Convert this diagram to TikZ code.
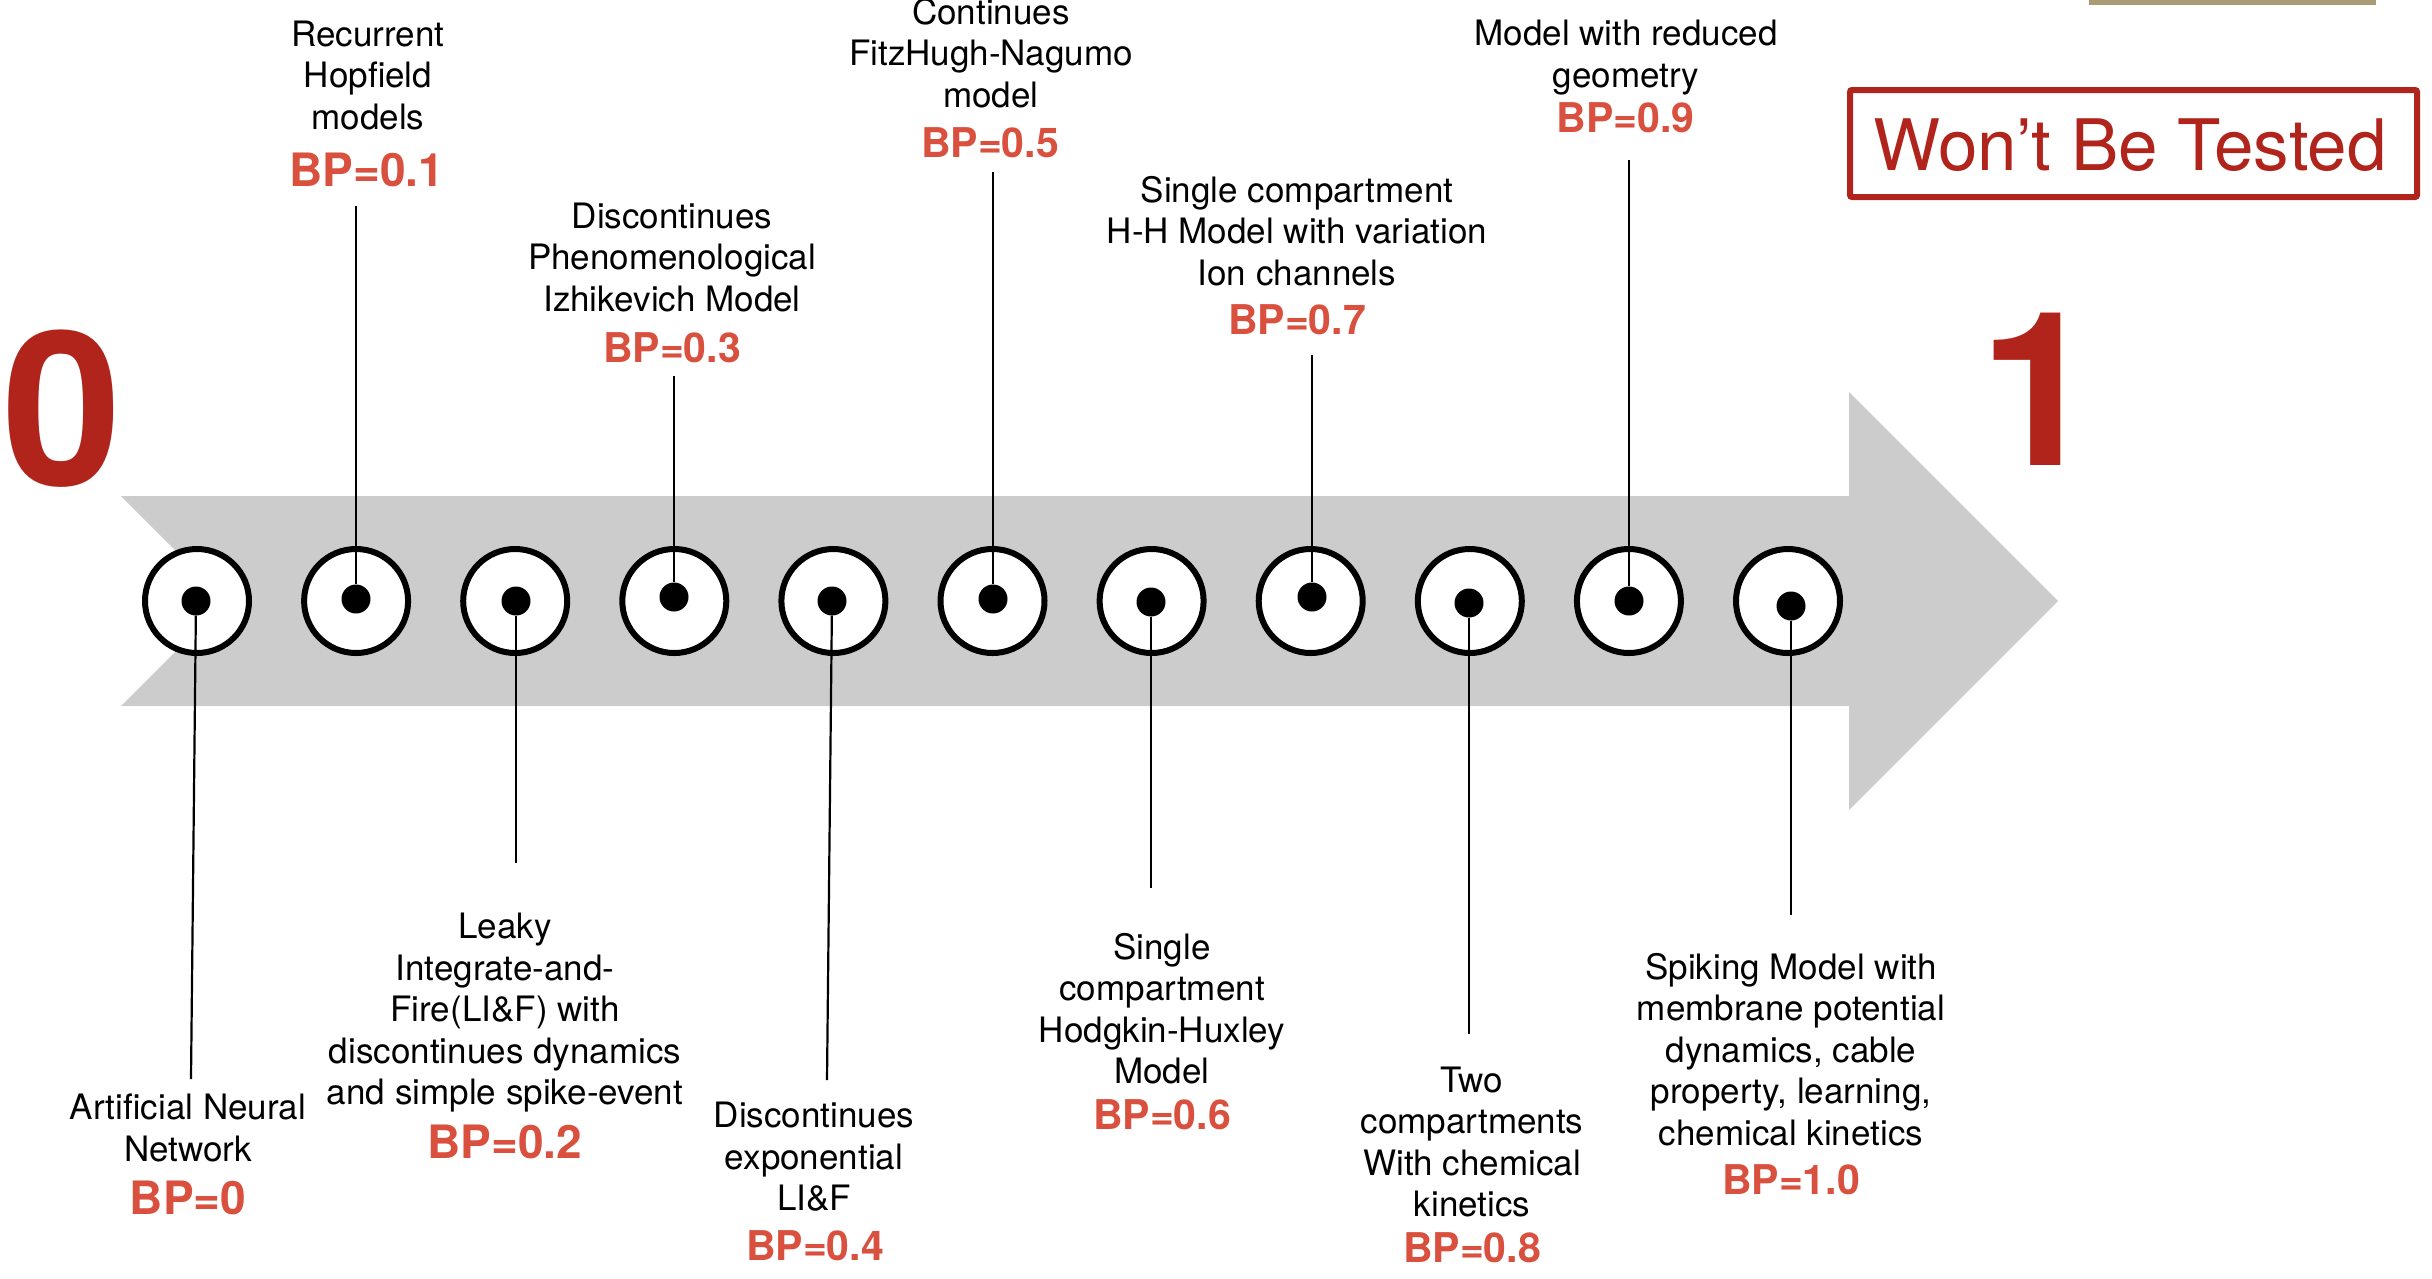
\documentclass[tikz,border=0pt]{standalone}
\usepackage{fontspec}
\setmainfont{TeX Gyre Heros}
\definecolor{bpred}{HTML}{D9503F}
\definecolor{darkred}{HTML}{B0241B}
\definecolor{arrowgray}{HTML}{CCCCCC}
\definecolor{tanbar}{HTML}{A99C74}
\tikzset{
  desc/.style={anchor=base, align=center, inner sep=0pt, font=\fontsize{35}{41.5}\selectfont},
  bpbig/.style={anchor=base, inner sep=0pt, text=bpred, font=\fontsize{46}{50}\selectfont\bfseries},
  bpsmall/.style={anchor=base, inner sep=0pt, text=bpred, font=\fontsize{41}{45}\selectfont\bfseries},
  ring/.style={circle, draw=black, line width=6pt, fill=white, minimum size=104pt, inner sep=0pt},
  dotnode/.style={circle, fill=black, minimum size=29pt, inner sep=0pt},
  link/.style={line width=2.2pt, black},
  bignum/.style={anchor=base, inner sep=0pt, text=darkred, font=\fontsize{215}{215}\selectfont\bfseries}
}
\begin{document}
\begin{tikzpicture}[x=1pt,y=-1pt]
\useasboundingbox (0,0) rectangle (2432,1278);
% top tan bar
\fill[tanbar] (2089,0) rectangle (2376,5);
% big arrow
\fill[arrowgray] (121,496) -- (1849,496) -- (1849,392) -- (2058,601) -- (1849,810) -- (1849,706) -- (121,706) -- (226,601) -- cycle;
% end numbers
\node[bignum] (zero) at (62,485) {0};
\node[bignum] (one) at (2039,465) {1};
% box
\node[draw=darkred, line width=6pt, rounded corners=2pt, minimum width=567pt, minimum height=107pt, inner sep=0pt] (wbtbox) at (2133.5,143.5) {};
\node[anchor=base, inner sep=0pt, text=darkred, font=\fontsize{71}{75}\selectfont] (wbt) at (2130,170) {Won’t Be Tested};
% rings
\foreach \i in {0,...,10} {
  \node[ring] (c\i) at ({197+159.1*\i},601) {};
}
% dots
\foreach \i/\x/\y in {0/196/601, 1/356/599, 2/516/601, 3/674/597, 4/832/601, 5/993/599, 6/1151/602, 7/1312/597, 8/1469/603, 9/1629/601, 10/1791/606} {
  \node[dotnode] (d\i) at (\x,\y) {};
}
% free ends of connectors
\coordinate (e0) at (191,1079);
\coordinate (e1) at (356,206);
\coordinate (e2) at (516,863);
\coordinate (e3) at (674,376);
\coordinate (e4) at (827,1080);
\coordinate (e5) at (993,172);
\coordinate (e6) at (1151,888);
\coordinate (e7) at (1312,355);
\coordinate (e8) at (1469,1034);
\coordinate (e9) at (1629,160);
\coordinate (e10) at (1791,915);
\foreach \i in {0,...,10} {
  \draw[link] (d\i) -- (e\i);
}
% labels (anchor = baseline of the last line)
\node[desc] (t0) at (188,1161) {Artificial Neural\\Network};
\node[bpbig] (b0) at (188,1214) {BP=0};
\node[desc] (t1) at (368,129) {Recurrent\\Hopfield\\models};
\node[bpbig] (b1) at (367,186) {BP=0.1};
\node[desc] (t2) at (505,1104.5) {Leaky\\Integrate-and-\\Fire(LI\&F) with\\discontinues dynamics\\and simple spike-event};
\node[bpbig] (b2) at (505,1158.6) {BP=0.2};
\node[desc] (t3) at (672,311) {Discontinues\\Phenomenological\\Izhikevich Model};
\node[bpsmall] (b3) at (672,362) {BP=0.3};
\node[desc] (t4) at (814,1210.7) {Discontinues\\exponential\\LI\&F};
\node[bpsmall] (b4) at (815,1260.7) {BP=0.4};
\node[desc] (t5) at (991,107) {Continues\\FitzHugh-Nagumo\\model};
\node[bpsmall] (b5) at (990,157) {BP=0.5};
\node[desc] (t6) at (1162,1083.7) {Single\\compartment\\Hodgkin-Huxley\\Model};
\node[bpsmall] (b6) at (1162,1129.8) {BP=0.6};
\node[desc] (t7) at (1297,285) {Single compartment\\H-H Model with variation\\Ion channels};
\node[bpsmall] (b7) at (1297,334) {BP=0.7};
\node[desc] (t8) at (1472,1216.7) {Two\\compartments\\With chemical\\kinetics};
\node[bpsmall] (b8) at (1472,1262.7) {BP=0.8};
\node[desc] (t9) at (1626,87) {Model with reduced\\geometry};
\node[bpsmall] (b9) at (1625.5,132.7) {BP=0.9};
\node[desc] (t10) at (1791,1145.4) {Spiking Model with\\membrane potential\\dynamics, cable\\property, learning,\\chemical kinetics};
\node[bpsmall] (b10) at (1791,1194.6) {BP=1.0};
\end{tikzpicture}
\end{document}
